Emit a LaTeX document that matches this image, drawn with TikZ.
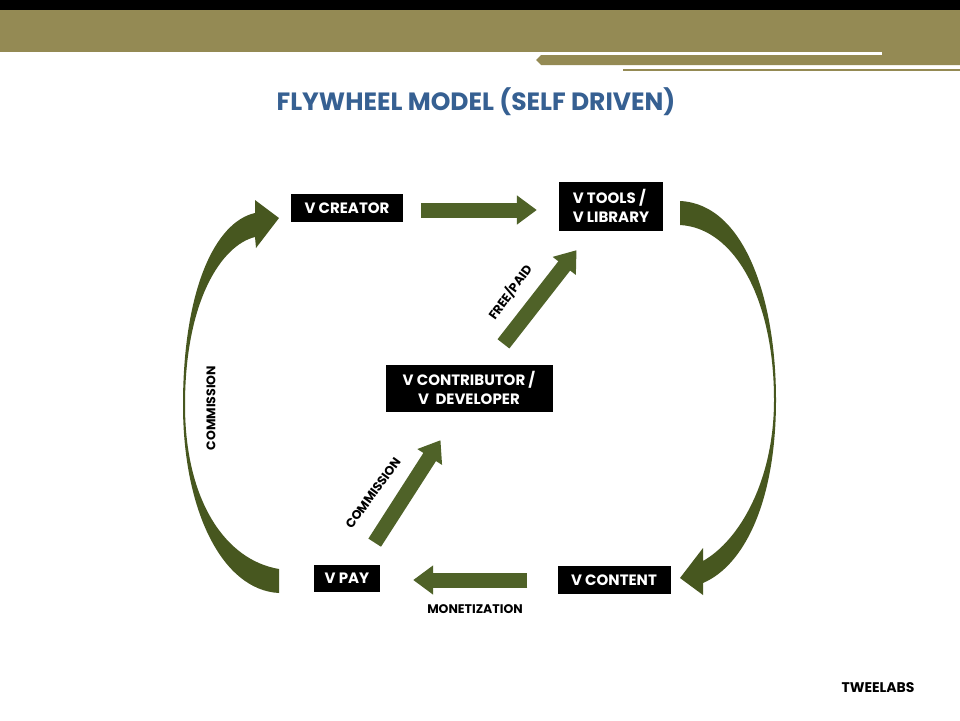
\documentclass[tikz,border=0pt]{standalone}
\usepackage{fontspec}
\setmainfont{Poppins}
\usetikzlibrary{arrows.meta}
\definecolor{olivebar}{HTML}{948A54}
\definecolor{arrowgreen}{HTML}{4F6228}
\definecolor{curvegreen}{HTML}{47571F}
\definecolor{titleblue}{HTML}{366092}
\begin{document}
\begin{tikzpicture}[x=1pt,y=-1pt,
  box/.style={fill=black,text=white,font=\fontsize{15}{19}\selectfont\bfseries,inner sep=0pt},
  lbl/.style={font=\fontsize{12.5}{14}\selectfont\bfseries},
  blockarrow/.style={arrowgreen,line width=15pt,-{Triangle[length=20pt,width=28pt]}}]
\fill[white] (0,0) rectangle (960,720);
\useasboundingbox (0,0) rectangle (960,720);
% header band
\fill[black] (0,0) rectangle (960,10);
\fill[olivebar] (0,10) rectangle (960,52);
\fill[olivebar] (882,52) rectangle (960,55);
\fill[olivebar] (536,60)--(541,55)--(960,55)--(960,65)--(541,65)--cycle;
\fill[olivebar] (623,69) rectangle (960,71);
\node[titleblue,font=\fontsize{25}{28}\selectfont\bfseries] (title) at (476,102) {FLYWHEEL MODEL (SELF DRIVEN)};
% boxes
\node[box,minimum width=112pt,minimum height=28pt] (creator) at (347,208) {V CREATOR};
\node[box,minimum width=104pt,minimum height=49pt,align=left] (tools) at (611,206) {V TOOLS /\\V LIBRARY};
\node[box,minimum width=167pt,minimum height=47pt,align=center] (contrib) at (469,388) {V CONTRIBUTOR /\\V\ \ DEVELOPER};
\node[box,minimum width=113pt,minimum height=28pt] (content) at (614,580) {V CONTENT};
\node[box,minimum width=66pt,minimum height=27pt] (pay) at (347,578) {V PAY};
% straight arrows
\draw[blockarrow,shorten <=18pt,shorten >=22pt] ([yshift=-2pt]creator.east) -- ([yshift=-2pt]creator.east -| tools.west);
\draw[blockarrow,shorten <=56pt,shorten >=56pt] (contrib.center) -- (tools.center);
\draw[blockarrow,shorten <=42pt,shorten >=62pt] ([xshift=5pt]pay.center) -- ([xshift=5pt]contrib.center);
\draw[blockarrow,shorten <=30pt,shorten >=33pt] (content.west) -- (content.west -| pay.east);
% curved arrows
\fill[curvegreen] (279,593) .. controls (222,590) and (183,510) .. (183,405) .. controls (183,290) and (215,222) .. (255,213) -- (255,200) -- (279,218) -- (256,248) -- (255,237) .. controls (222,245) and (185,300) .. (185,405) .. controls (185,500) and (225,560) .. (279,569) -- cycle;
\fill[curvegreen] (680,201) .. controls (745,204) and (776,300) .. (776,400) .. controls (776,500) and (745,565) .. (703,583) -- (703,595) -- (680,578) -- (703,548) -- (703,561) .. controls (740,540) and (774,480) .. (774,400) .. controls (774,300) and (735,228) .. (680,225) -- cycle;
% labels
\node[lbl,rotate=54] (freepaid) at (510,292) {FREE/PAID};
\node[lbl,rotate=54] (commdiag) at (373,493) {COMMISSION};
\node[lbl] (monet) at (475,609) {MONETIZATION};
\node[lbl,rotate=90] (commside) at (211,408) {COMMISSION};
\node[font=\fontsize{14}{16}\selectfont\bfseries] (brand) at (878,688) {TWEELABS};
\end{tikzpicture}
\end{document}
